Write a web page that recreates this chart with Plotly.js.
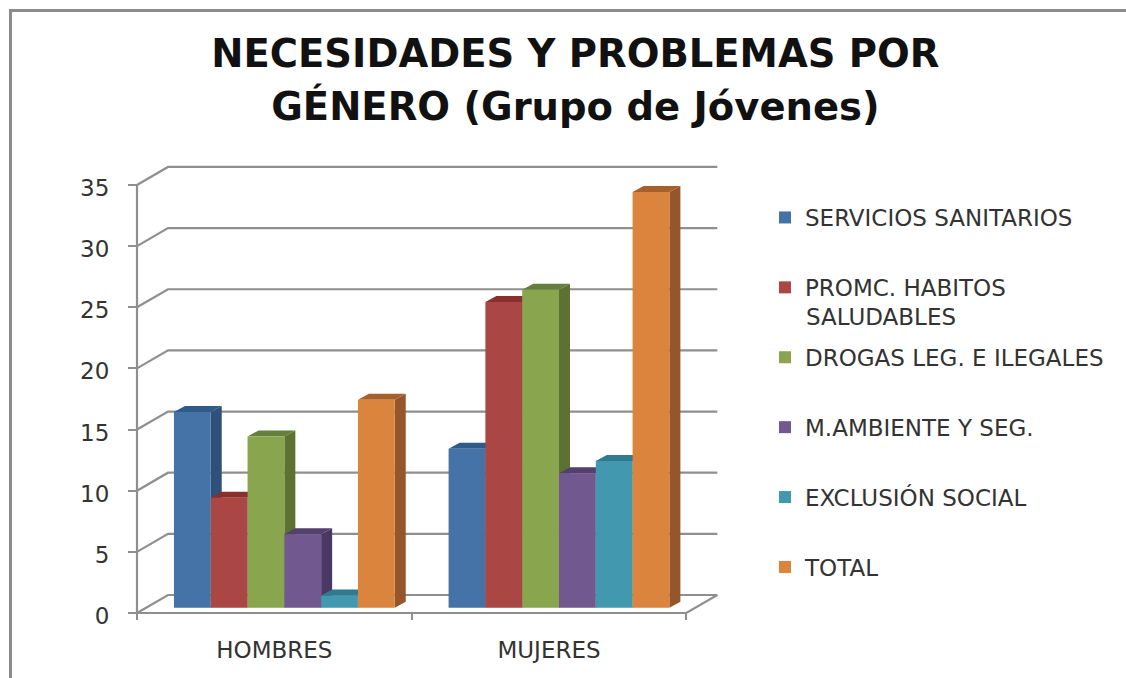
<!DOCTYPE html>
<html><head><meta charset="utf-8">
<script src="https://cdn.plot.ly/plotly-3.0.1.min.js"></script>
<style>html,body{margin:0;padding:0;background:#fff;overflow:hidden}
#frame{position:absolute;left:9px;top:9px;width:1117px;height:669px;border-left:3px solid #8c8c8c;border-top:3px solid #8c8c8c;box-sizing:border-box;pointer-events:none}
#c{position:absolute;left:0;top:0;width:1126px;height:678px}</style>
</head><body><div id="c"></div><div id="frame"></div>
<script>
const categories = ['HOMBRES', 'MUJERES'];
const serviciosSanitarios = [16, 13];
const promcHabitos = [9, 25];
const drogas = [14, 26];
const mAmbiente = [6, 11];
const exclusion = [1, 12];
const total = [17, 34];
const seriesNames = ['SERVICIOS SANITARIOS', 'PROMC. HABITOS', 'DROGAS LEG. E ILEGALES', 'M.AMBIENTE Y SEG.', 'EXCLUSIÓN SOCIAL', 'TOTAL'];
const seriesValues = [serviciosSanitarios, promcHabitos, drogas, mAmbiente, exclusion, total];
const frontColors = ['#4573a7', '#aa4643', '#89a54e', '#71588f', '#4198af', '#db843d'];
const sideColors = ['#2e5079', '#7a2f2d', '#5c7232', '#4a3864', '#2b6e80', '#94562a'];
const topColors = ['#2f5a8a', '#8a2f2d', '#65803a', '#54406f', '#2f7a8e', '#a5602c'];
const yTicks = [0, 5, 10, 15, 20, 25, 30, 35];

const pxX = 274.65, pxY = 12.23;
const wallDX = 31 / pxX, wallDY = 18 / pxY;
const barBase = 5.3 / pxY, barW = 36.8 / pxX, barStart = 0.1345;
const faceDX = 11 / pxX, faceDY = 6 / pxY;
const xCount = categories.length;
const xs = categories.map((_, k) => k);
const grey = '#8f8f8f';

const traces = [];
const gx = [], gy = [];
yTicks.forEach(t => { if (t > 0) { gx.push(0, wallDX, xCount + wallDX, null); gy.push(t, t + wallDY, t + wallDY, null); } });
gx.push(0, xCount, xCount + wallDX, wallDX, 0, null, 0, 0);
gy.push(0, 0, wallDY, wallDY, 0, null, 0, yTicks[yTicks.length - 1]);
traces.push({ type: 'scatter', mode: 'lines', x: gx, y: gy, line: { color: grey, width: 2.2 }, showlegend: false, hoverinfo: 'skip', zorder: 0 });

seriesValues.forEach((vals, i) => {
  const tx = [], ty = [], sx = [], sy = [];
  vals.forEach((v, k) => {
    const x0 = k + barStart + i * barW, x1 = x0 + barW, t = barBase + v, b = barBase;
    tx.push(x0, x0 + faceDX, x1 + faceDX, x1, x0, null);
    ty.push(t, t + faceDY, t + faceDY, t, t, null);
    sx.push(x1, x1 + faceDX, x1 + faceDX, x1, x1, null);
    sy.push(t, t + faceDY, b + faceDY, b, t, null);
  });
  traces.push({ type: 'scatter', mode: 'lines', x: sx, y: sy, fill: 'toself', fillcolor: sideColors[i], line: { width: 0, color: sideColors[i] }, showlegend: false, hoverinfo: 'skip', zorder: 2 * i + 1 });
  traces.push({ type: 'scatter', mode: 'lines', x: tx, y: ty, fill: 'toself', fillcolor: topColors[i], line: { width: 0, color: topColors[i] }, showlegend: false, hoverinfo: 'skip', zorder: 2 * i + 1 });
  traces.push({ type: 'bar', name: seriesNames[i], legendgroup: 'g' + i, x: xs, y: vals, base: barBase, width: barW, offset: barStart + i * barW, marker: { color: frontColors[i], line: { width: 0 } }, zorder: 2 * i + 2 });
});

const font = "'DejaVu Sans', sans-serif";
const pad = 2, plotW = 581 + 2 * pad, plotH = 446 + 2 * pad;
const layout = {
  width: 1126, height: 678, paper_bgcolor: '#fff', plot_bgcolor: 'rgba(0,0,0,0)',
  margin: { l: 137 - pad, r: 408 - pad, t: 167 - pad, b: 65 - pad },
  barmode: 'overlay',
  title: { text: '<span style="font-size:38.5px">NECESIDADES Y PROBLEMAS POR</span><br><span style="font-size:38.5px">GÉNERO (Grupo de Jóvenes)</span>', font: { family: "'DejaVu Sans'", size: 41, color: '#111', weight: 'bold' }, x: 0.511, xanchor: 'center', y: 0.901, yanchor: 'middle' },
  xaxis: { range: [-pad / pxX, (581 + pad) / pxX], anchor: 'free', position: pad / plotH, tickmode: 'array', tickvals: xs.map(k => k + 0.5), ticktext: categories, ticks: '', showgrid: false, zeroline: false, showline: false, tickfont: { family: font, size: 23, color: '#333' }, ticklabelstandoff: 21,
    minor: { tickmode: 'array', tickvals: [0, 1, 2], ticks: 'outside', ticklen: 6, tickwidth: 2, tickcolor: grey, showgrid: false } },
  yaxis: { range: [-pad / pxY, (446 + pad) / pxY], anchor: 'free', position: pad / plotW, tickmode: 'array', tickvals: yTicks, ticks: 'outside', ticklen: 9, tickwidth: 2, tickcolor: grey, showgrid: false, zeroline: false, showline: false, ticklabelstandoff: 14, ticklabelshift: 3, tickfont: { family: font, size: 23, color: '#333' } },
  legend: { x: 765 / 1126, xref: 'container', y: 1 - 196 / 678, yref: 'container', xanchor: 'left', yanchor: 'top', font: { family: font, size: 23, color: '#333' }, tracegroupgap: 37, bgcolor: 'rgba(0,0,0,0)', itemclick: false, maxheight: 600 },
  annotations: [{ text: 'SALUDABLES', xref: 'paper', yref: 'paper', x: (803.5 - (137 - pad)) / plotW, y: (613 + pad - 317) / plotH, xanchor: 'left', yanchor: 'middle', showarrow: false, font: { family: font, size: 23, color: '#333' } }]
};
Plotly.newPlot('c', traces, layout, { displayModeBar: false, staticPlot: true });
</script></body></html>
